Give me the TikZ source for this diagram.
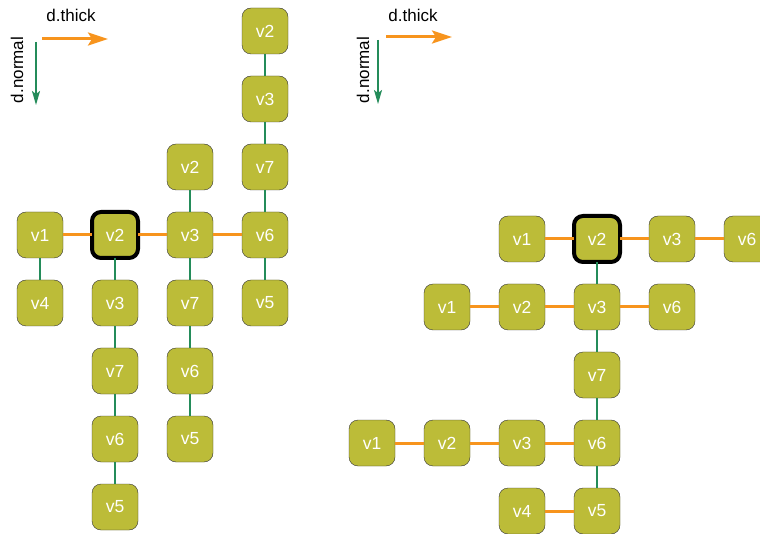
\documentclass[tikz,border=0pt]{standalone}
\usepackage{fontspec}
\setmainfont{Liberation Sans}
\usetikzlibrary{positioning,arrows.meta}
\definecolor{vfill}{RGB}{188,188,56}
\definecolor{eorange}{RGB}{247,148,29}
\definecolor{egreen}{RGB}{36,140,90}

\begin{document}
\begin{tikzpicture}[
    x=1pt, y=-1pt,
    node distance=22pt and 29pt,
    vbox/.style={draw=black!80, fill=vfill, rounded corners=9pt, minimum width=46pt, minimum height=46pt, outer sep=0pt, text=white, font=\fontsize{17.5}{19}\selectfont},
    sel/.style={draw=black, line width=4pt},
    thk/.style={draw=eorange, line width=3pt},
    nrm/.style={draw=egreen, line width=1.5pt},
    lbl/.style={font=\fontsize{17}{20}\selectfont},
    thktip/.style={-{Stealth[length=20pt,width=13pt,inset=4pt]}},
    nrmtip/.style={-{Stealth[length=14pt,width=8pt,inset=3pt]}},
]
\useasboundingbox (0,0) rectangle (760,534);

% left: directions
\node[lbl] (lth) at (71,15) {d.thick};
\node[lbl, rotate=90] (lnr) at (17,70) {d.normal};
\coordinate (lo1) at (42,39);
\coordinate (lo2) at (108,39);
\coordinate (lg1) at (36,42);
\coordinate (lg2) at (36,105);
\draw[thk, thktip] (lo1) -- (lo2);
\draw[nrm, nrmtip] (lg1) -- (lg2);

% left graph
\node[vbox] (lv1) at (40,235) {v1};
\node[vbox, sel, right=of lv1] (lv2) {v2};
\node[vbox, right=of lv2] (lv3) {v3};
\node[vbox, right=of lv3] (lv6) {v6};
\node[vbox, below=of lv1] (lv4) {v4};
\node[vbox, below=of lv2] (la3) {v3};
\node[vbox, below=of la3] (la7) {v7};
\node[vbox, below=of la7] (la6) {v6};
\node[vbox, below=of la6] (la5) {v5};
\node[vbox, above=of lv3] (lb2) {v2};
\node[vbox, below=of lv3] (lb7) {v7};
\node[vbox, below=of lb7] (lb6) {v6};
\node[vbox, below=of lb6] (lb5) {v5};
\node[vbox, above=of lv6] (lc7) {v7};
\node[vbox, above=of lc7] (lc3) {v3};
\node[vbox, above=of lc3] (lc2) {v2};
\node[vbox, below=of lv6] (lc5) {v5};
\draw[thk] (lv1)--(lv2);
\draw[thk] (lv2)--(lv3);
\draw[thk] (lv3)--(lv6);
\draw[nrm] (lv1)--(lv4);
\draw[nrm] (lv2)--(la3);
\draw[nrm] (la3)--(la7);
\draw[nrm] (la7)--(la6);
\draw[nrm] (la6)--(la5);
\draw[nrm] (lb2)--(lv3);
\draw[nrm] (lv3)--(lb7);
\draw[nrm] (lb7)--(lb6);
\draw[nrm] (lb6)--(lb5);
\draw[nrm] (lc2)--(lc3);
\draw[nrm] (lc3)--(lc7);
\draw[nrm] (lc7)--(lv6);
\draw[nrm] (lv6)--(lc5);

% right: directions
\node[lbl] (rth) at (413,15) {d.thick};
\node[lbl, rotate=90] (rnr) at (363,70) {d.normal};
\coordinate (ro1) at (386,37);
\coordinate (ro2) at (452,37);
\coordinate (rg1) at (378,40);
\coordinate (rg2) at (378,104);
\draw[thk, thktip] (ro1) -- (ro2);
\draw[nrm, nrmtip] (rg1) -- (rg2);

% right graph
\node[vbox, sel] (rv2) at (597,239) {v2};
\node[vbox, left=of rv2] (rv1) {v1};
\node[vbox, right=of rv2] (rv3) {v3};
\node[vbox, right=of rv3] (rv6) {v6};
\node[vbox, below=of rv2] (ra3) {v3};
\node[vbox, left=of ra3] (ra2) {v2};
\node[vbox, left=of ra2] (ra1) {v1};
\node[vbox, right=of ra3] (ra6) {v6};
\node[vbox, below=of ra3] (rb7) {v7};
\node[vbox, below=of rb7] (rc6) {v6};
\node[vbox, left=of rc6] (rc3) {v3};
\node[vbox, left=of rc3] (rc2) {v2};
\node[vbox, left=of rc2] (rc1) {v1};
\node[vbox, below=of rc6] (rd5) {v5};
\node[vbox, left=of rd5] (rd4) {v4};
\draw[thk] (rv1)--(rv2);
\draw[thk] (rv2)--(rv3);
\draw[thk] (rv3)--(rv6);
\draw[thk] (ra1)--(ra2);
\draw[thk] (ra2)--(ra3);
\draw[thk] (ra3)--(ra6);
\draw[thk] (rc1)--(rc2);
\draw[thk] (rc2)--(rc3);
\draw[thk] (rc3)--(rc6);
\draw[thk] (rd4)--(rd5);
\draw[nrm] (rv2)--(ra3);
\draw[nrm] (ra3)--(rb7);
\draw[nrm] (rb7)--(rc6);
\draw[nrm] (rc6)--(rd5);
\end{tikzpicture}
\end{document}
